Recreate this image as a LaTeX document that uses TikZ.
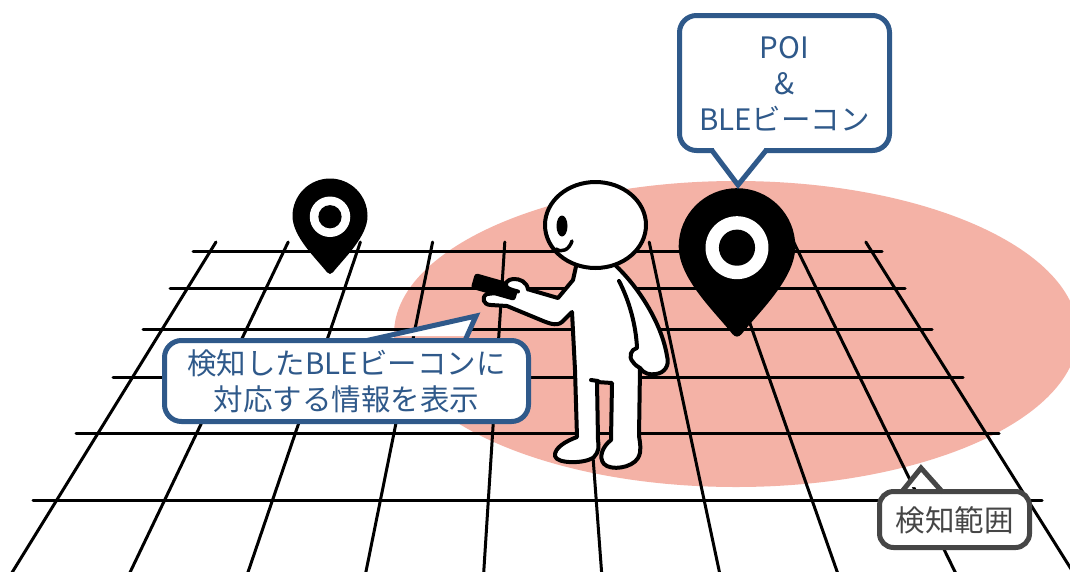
\documentclass[tikz,border=0pt]{standalone}
\usepackage{fontspec}
\newfontfamily\jpfont{Noto Sans CJK JP}

\definecolor{calloutblue}{RGB}{47,89,138}
\definecolor{labelgray}{RGB}{70,70,70}
\definecolor{rangepink}{RGB}{244,178,166}

\tikzset{
  gridline/.style={line width=3pt, line cap=round, draw=black},
  outline/.style={line width=4pt, line join=round, line cap=round, draw=black},
  bluebox/.style={line width=5pt, draw=calloutblue, fill=white},
  graybox/.style={line width=5pt, draw=labelgray, fill=white},
  bluetail/.style={line width=5pt, draw=calloutblue, line join=miter, line cap=round},
  graytail/.style={line width=5pt, draw=labelgray, line join=miter, line cap=round},
  jptext/.style={font=\jpfont\fontsize{29.5}{36}\selectfont, align=center, inner sep=0pt},
}

% map marker: centre (#1,#2), head radius #3
\newcommand\drawmappin[3]{%
  \begin{scope}[shift={(#1,#2)}, scale=#3]
    \fill[black] (-1,0) arc[start angle=180, end angle=360, radius=1]
      .. controls (1,0.55) and (0.38,1.12) .. (0.08,1.5)
      .. controls (0.03,1.56) and (-0.03,1.56) .. (-0.08,1.5)
      .. controls (-0.38,1.12) and (-1,0.55) .. (-1,0) -- cycle;
    \fill[white] (0,0.02) circle[radius=0.54];
    \fill[black] (0,0.02) circle[radius=0.31];
  \end{scope}}

\begin{document}
\begin{tikzpicture}[x=1pt, y=-1pt]
\useasboundingbox (0,0) rectangle (1070,571);
\clip (0,0) rectangle (1070,571);
\fill[white] (0,0) rectangle (1070,571);

% detection range
\fill[rangepink] (736,334) ellipse[x radius=342, y radius=153];

% floor grid
\foreach \y/\xl/\xr in {251/193/882, 288/170/905, 329/143/932,
                        377/113/963, 433/76/999, 500/33/1042}
  \draw[gridline] (\xl,\y) -- (\xr,\y);
\foreach \i in {0,...,9}
  \draw[gridline] ({216+72.2*\i},242) -- ({216+72.2*\i+1.0274*(-203+45.5*\i)},580);

% markers
\drawmappin{330}{216}{37.5}
\drawmappin{737}{246.5}{58.3}

% person: body, arms and legs
\draw[outline, fill=white]
  (577,262) -- (573,280) -- (558,298) -- (527,289) -- (515,291) -- (487,294)
  .. controls (481,297) and (483,305) .. (491,305)
  -- (507,306) -- (536,318)
  .. controls (548,323) and (556,327) .. (562,322)
  -- (572,312) -- (575,370) -- (577,437)
  .. controls (566,441) and (554,448) .. (555,456)
  .. controls (556,464) and (586,464) .. (594,457)
  .. controls (599,452) and (599,446) .. (598,440)
  -- (597,382) -- (612,383) -- (611,440)
  .. controls (603,446) and (598,457) .. (604,464)
  .. controls (611,471) and (632,468) .. (638,458)
  .. controls (642,451) and (640,443) .. (639,436)
  -- (640,368)
  .. controls (644,374) and (650,375) .. (656,374)
  .. controls (664,373) and (670,366) .. (667,356)
  .. controls (662,325) and (640,288) .. (614,264)
  -- cycle;
\draw[outline] (591,380) -- (598,381);
\draw[outline] (619,281) .. controls (629,300) and (636,325) .. (637,348)
  .. controls (631,349) and (628,357) .. (633,362)
  .. controls (635,365) and (638,367) .. (640,368);

% phone held in the hand
\fill[black, rounded corners=3] (475.1,273.0) -- (519.3,285.6) -- (514.9,301.0) -- (470.7,288.4) -- cycle;
\fill[white] (528,289) .. controls (527,282) and (520,278.5) .. (513,279)
  .. controls (507,279.5) and (504,284) .. (507,287.5)
  .. controls (511,290) and (518,292) .. (524,294) -- (529,294) -- cycle;
\draw[outline] (528,289.5) .. controls (527,282) and (520,278.5) .. (513,279)
  .. controls (507,279.5) and (504,284) .. (507,287.5)
  .. controls (510,289.5) and (514,290.5) .. (518,291.5);

% head
\draw[outline, fill=white] (595.5,225) ellipse[x radius=50.5, y radius=43];
\fill[black] (562,226) ellipse[x radius=5.5, y radius=10.5];
\draw[outline, line width=3.5pt] (556,249) .. controls (562,253) and (569,250) .. (572,241);

% callout: POI
\draw[bluebox, rounded corners=17] (679.5,15.5) rectangle (889.5,150.5);
\fill[white] (714,146) -- (714,150.5) -- (738,183) -- (764,150.5) -- (764,146) -- cycle;
\draw[bluetail] (712,150.5) -- (738,185) -- (766,150.5);
\node[jptext, text=calloutblue] (poi) at (784.5,84) {POI\\\&\\BLEビーコン};

% callout: information shown on the phone
\draw[bluebox, rounded corners=17] (164.5,340.5) rectangle (528.5,421.5);
\fill[white] (370,336) -- (370,340.5) -- (476,316) -- (464,340.5) -- (464,336) -- cycle;
\draw[bluetail] (367,340.5) -- (476,316) -- (465,340.5);
\node[jptext, text=calloutblue] (info) at (346.5,381) {検知したBLEビーコンに\\対応する情報を表示};

% label: detection range
\draw[graybox, rounded corners=14] (879.5,491.5) rectangle (1029.5,547.5);
\fill[white] (904,487) -- (904,491.5) -- (921,469) -- (940,491.5) -- (940,487) -- cycle;
\draw[graytail] (902,491.5) -- (921,468) -- (942,491.5);
\node[jptext, text=labelgray] (range) at (954.5,520) {検知範囲};
\end{tikzpicture}
\end{document}
